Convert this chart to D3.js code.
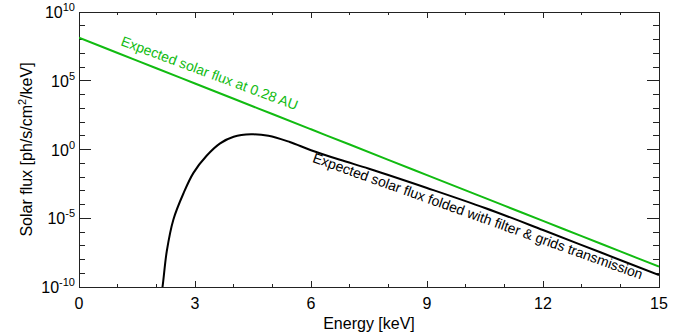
<!DOCTYPE html>
<html>
<head>
<meta charset="utf-8">
<script src="https://cdn.jsdelivr.net/npm/d3@7"></script>
<style>
  body { margin: 0; background: #fff; }
  text { font-family: "Liberation Sans", Arial, sans-serif; }
</style>
</head>
<body>
<div id="chart"></div>
<script>
// energy grid (keV) and fluxes
var energyGreen = [0, 1, 2, 3, 4, 5, 6, 7, 8, 9, 10, 11, 12, 13, 14, 15];
var fluxGreen = [1.35e8, 1.05e7, 8.1e5, 6.3e4, 4.9e3, 380, 29.5, 2.29, 0.178, 1.38e-2,
                 1.07e-3, 8.3e-5, 6.5e-6, 5.0e-7, 3.9e-8, 3.0e-9];

var energyBlack = [2.10, 2.16, 2.27, 2.44, 2.70, 2.96, 3.30, 3.65, 4.00, 4.45, 4.90,
                   5.45, 6.00, 6.75, 7.50, 9.00, 10.50, 12.00, 13.50, 15.00];
var fluxBlack = [1e-11, 1e-10, 4.0e-8, 7.9e-6, 6.3e-4, 2.0e-2, 0.35, 2.8, 8.5, 12.6, 10,
                 3.5, 0.89, 0.178, 4.0e-2, 1.6e-3, 5.6e-5, 1.4e-6, 3.2e-8, 7.4e-10];

var xMajor = [0, 3, 6, 9, 12, 15];
var yMajorExp = [-10, -5, 0, 5, 10];

var labelGreen = "Expected solar flux at 0.28 AU";
var labelBlack = "Expected solar flux folded with filter & grids transmission";

// set the dimensions and margins of the graph
var margin = { top: 12, right: 22, bottom: 47, left: 79 },
    width = 681 - margin.left - margin.right,
    height = 334 - margin.top - margin.bottom;

var svg = d3.select("#chart")
    .append("svg")
    .attr("width", 681)
    .attr("height", 334)
    .append("g")
    .attr("transform", "translate(" + margin.left + "," + margin.top + ")");

var x = d3.scaleLinear().domain([0, 15]).range([0, width]);
var y = d3.scaleLog().domain([1e-10, 1e10]).range([height, 0]);

var axisColor = "#222";
var xMinor = d3.range(0, 16, 1);
var yMinor = d3.range(-10, 11, 1).map(function (e) { return Math.pow(10, e); });
var yMajor = yMajorExp.map(function (e) { return Math.pow(10, e); });

// x ticks (bottom and top), inward
function xTicks(g, vals, len) {
    g.selectAll(null).data(vals).enter().append("line")
        .attr("x1", function (d) { return x(d); })
        .attr("x2", function (d) { return x(d); })
        .attr("y1", height).attr("y2", height - len)
        .attr("stroke", axisColor);
    g.selectAll(null).data(vals).enter().append("line")
        .attr("x1", function (d) { return x(d); })
        .attr("x2", function (d) { return x(d); })
        .attr("y1", 0).attr("y2", len)
        .attr("stroke", axisColor);
}
// y ticks (left and right), inward
function yTicks(g, vals, len) {
    g.selectAll(null).data(vals).enter().append("line")
        .attr("y1", function (d) { return y(d); })
        .attr("y2", function (d) { return y(d); })
        .attr("x1", 0).attr("x2", len)
        .attr("stroke", axisColor);
    g.selectAll(null).data(vals).enter().append("line")
        .attr("y1", function (d) { return y(d); })
        .attr("y2", function (d) { return y(d); })
        .attr("x1", width).attr("x2", width - len)
        .attr("stroke", axisColor);
}
var ticks = svg.append("g").attr("stroke-width", 1).attr("shape-rendering", "crispEdges");
xTicks(ticks, xMinor, 3);
xTicks(ticks, xMajor, 6);
yTicks(ticks, yMinor, 6);
yTicks(ticks, yMajor, 12);

// frame
svg.append("rect")
    .attr("width", width).attr("height", height)
    .attr("fill", "none").attr("stroke", axisColor)
    .attr("shape-rendering", "crispEdges");

// tick labels
svg.append("g").selectAll("text").data(xMajor).enter().append("text")
    .attr("x", function (d) { return x(d); })
    .attr("y", height + 22)
    .attr("text-anchor", "middle")
    .style("font-size", "16px")
    .text(function (d) { return d; });

var yl = svg.append("g").selectAll("text").data(yMajorExp).enter().append("text")
    .attr("x", -4)
    .attr("y", function (d) { return y(Math.pow(10, d)) + 6; })
    .attr("text-anchor", "end")
    .style("font-size", "16px");
yl.append("tspan").text("10");
yl.append("tspan").attr("dy", -7).style("font-size", "11px")
    .text(function (d) { return d; });

// axis titles
svg.append("text")
    .attr("x", width / 2).attr("y", height + 42)
    .attr("text-anchor", "middle")
    .style("font-size", "16px")
    .text("Energy [keV]");

var yt = svg.append("text")
    .attr("transform", "translate(" + (-47) + "," + (height / 2) + ")rotate(-90)")
    .attr("text-anchor", "middle")
    .style("font-size", "16px");
yt.append("tspan").text("Solar flux [ph/s/cm");
yt.append("tspan").attr("dy", -6).style("font-size", "11px").text("2");
yt.append("tspan").attr("dy", 6).text("/keV]");

// curves
svg.append("clipPath").attr("id", "clip")
    .append("rect").attr("width", width).attr("height", height);

var line = d3.line()
    .x(function (d) { return x(d[0]); })
    .y(function (d) { return y(d[1]); })
    .curve(d3.curveCatmullRom.alpha(0.5));

svg.append("path")
    .datum(d3.zip(energyGreen, fluxGreen))
    .attr("clip-path", "url(#clip)")
    .attr("fill", "none").attr("stroke", "#11bb11").attr("stroke-width", 2)
    .attr("d", line);

svg.append("path")
    .datum(d3.zip(energyBlack, fluxBlack))
    .attr("clip-path", "url(#clip)")
    .attr("fill", "none").attr("stroke", "#000").attr("stroke-width", 2)
    .attr("d", line);

// curve labels
svg.append("text")
    .attr("transform", "translate(" + (120 - margin.left) + "," + (45 - margin.top) + ")rotate(20.4)")
    .style("font-size", "14px")
    .attr("fill", "#11bb11")
    .text(labelGreen);

svg.append("text")
    .attr("transform", "translate(" + (311.7 - margin.left) + "," + (161.7 - margin.top) + ")rotate(19.7)")
    .style("font-size", "14px")
    .attr("fill", "#000")
    .text(labelBlack);
</script>
</body>
</html>
